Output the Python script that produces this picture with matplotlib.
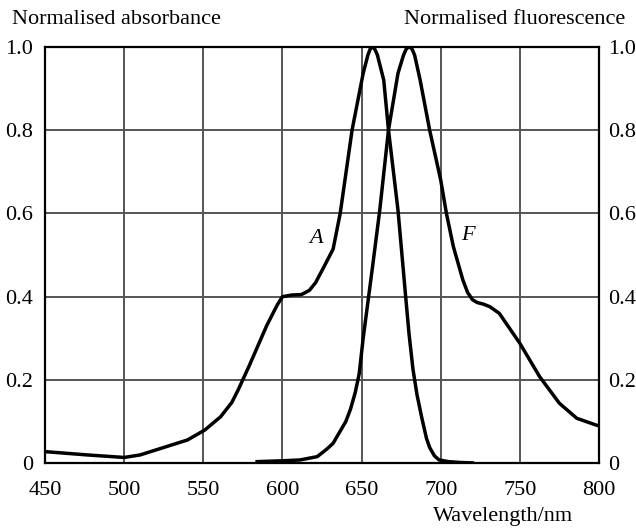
#!/usr/bin/env python3
"""========================================================================
Purpose:
    Normalised absorbance (A) and fluorescence (F) spectra versus
    wavelength, both curves on a shared 0-1 scale.
========================================================================"""
#=========================================================================#
# Preamble                                                                #
#=========================================================================#
import numpy as np
import matplotlib
matplotlib.use('Agg')
import matplotlib.pyplot as plt
#=========================================================================#
# Data                                             #
#=========================================================================#
abs_wl  = [450, 477, 500, 510, 520, 540, 551, 561, 568, 572, 579, 590,
           594, 597, 600, 606, 612, 617, 621, 626, 632, 636.5, 644, 651,
           654, 655.5, 657, 658.5, 660, 664, 667, 673, 678, 680, 682.5,
           685, 688, 691, 693, 696, 699, 705, 712, 720]
abs_val = [0.028, 0.020, 0.014, 0.020, 0.032, 0.056, 0.080, 0.112, 0.146,
           0.176, 0.234, 0.330, 0.360, 0.382, 0.400, 0.404, 0.405, 0.415,
           0.434, 0.470, 0.514, 0.600, 0.800, 0.936, 0.980, 0.995, 1.000,
           0.993, 0.980, 0.920, 0.800, 0.608, 0.394, 0.310, 0.225, 0.165,
           0.110, 0.060, 0.038, 0.018, 0.008, 0.004, 0.002, 0.001]

flu_wl  = [584, 600, 611, 622, 628, 632, 640, 643, 646, 648.5, 651, 657,
           661.5, 667, 673, 676.5, 678.3, 680, 681.8, 683.5, 687, 693, 700,
           703.6, 708, 714, 717, 720, 723, 727, 731, 737, 750, 762.5, 775,
           786, 798, 800]
flu_val = [0.004, 0.006, 0.008, 0.016, 0.034, 0.048, 0.100, 0.130, 0.170,
           0.215, 0.300, 0.474, 0.608, 0.800, 0.936, 0.980, 0.995, 1.000,
           0.995, 0.980, 0.920, 0.800, 0.680, 0.600, 0.520, 0.440, 0.410,
           0.393, 0.386, 0.382, 0.376, 0.360, 0.288, 0.208, 0.144, 0.108,
           0.092, 0.090]

x_ticks    = [450, 500, 550, 600, 650, 700, 750, 800]
y_ticks    = [0, 0.2, 0.4, 0.6, 0.8, 1.0]
y_labels   = ['0', '0.2', '0.4', '0.6', '0.8', '1.0']
#=========================================================================#
# Plot settings                                                           #
#=========================================================================#
plt.rc('font', family=['Liberation Serif', 'DejaVu Serif'])
plt.rc('font', size=16)
#=========================================================================#
# Main                                                                    #
#=========================================================================#
if __name__ == '__main__':
    fig = plt.figure(figsize=(6.36, 5.29), dpi=100)
    ax  = fig.add_axes([0.0708, 0.1242, 0.8710, 0.7875])
    #---------------------------------------------------------------------#
    # Grid and frame                                                      #
    #---------------------------------------------------------------------#
    ax.set_xlim(450, 800)
    ax.set_ylim(0, 1)
    ax.set_xticks(x_ticks)
    ax.set_yticks(y_ticks)
    ax.set_yticklabels(y_labels)
    ax.grid(True, color='#555555', lw=1.4)
    ax.set_axisbelow(True)
    for sp in ax.spines.values():
        sp.set_linewidth(1.6)
        sp.set_color('black')
    ax.tick_params(axis='both', length=0, labelsize=16)
    ax.tick_params(axis='x', pad=12.5)
    ax.tick_params(axis='y', pad=8.5)
    #---------------------------------------------------------------------#
    # Right hand scale (fluorescence)                                     #
    #---------------------------------------------------------------------#
    ax2 = ax.twinx()
    ax2.set_ylim(0, 1)
    ax2.set_yticks(y_ticks)
    ax2.set_yticklabels(y_labels)
    ax2.tick_params(axis='y', length=0, labelsize=16, pad=6.5)
    for sp in ax2.spines.values():
        sp.set_visible(False)
    #---------------------------------------------------------------------#
    # Curves                                                              #
    #---------------------------------------------------------------------#
    ax.plot(abs_wl, abs_val, color='black', lw=2.5, solid_joinstyle='round')
    ax.plot(flu_wl, flu_val, color='black', lw=2.5, solid_joinstyle='round')
    ax.text(621.5, 0.54, 'A', style='italic', fontsize=16,
            ha='center', va='center')
    ax.text(717.5, 0.548, 'F', style='italic', fontsize=16,
            ha='center', va='center')
    #---------------------------------------------------------------------#
    # Axis titles                                                         #
    #---------------------------------------------------------------------#
    fig.text(12/636, 1 - 19/529, 'Normalised absorbance', fontsize=16,
             ha='left', va='center')
    fig.text(625/636, 1 - 19/529, 'Normalised fluorescence', fontsize=16,
             ha='right', va='center')
    fig.text(503/636, 1 - 517/529, 'Wavelength/nm', fontsize=16,
             ha='center', va='center')

    fig.savefig('out.png', dpi=100)
    plt.close(fig)
